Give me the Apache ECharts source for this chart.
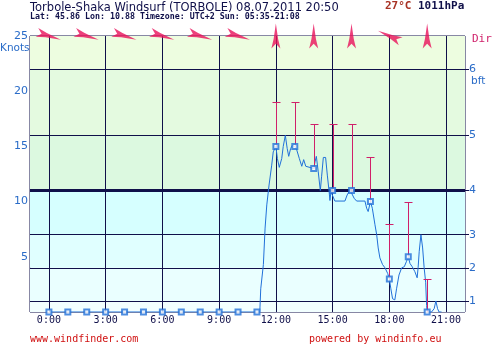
<!DOCTYPE html>
<html><head><meta charset="utf-8">
<script src="https://cdn.jsdelivr.net/npm/echarts@6/dist/echarts.min.js"></script>
<style>html,body{margin:0;padding:0;background:#fff}#c{width:495px;height:348px}</style>
</head><body><div id="c"></div>
<script>
// ---- data ----
const xTicks = [0, 3, 6, 9, 12, 15, 18, 21];
const knotTicks = [5, 10, 15, 20, 25];
const bftLevels = [1, 4, 7, 11, 16, 22];
const bftLabels = ['1', '2', '3', '4', '5', '6'];
const hours = [0,1,2,3,4,5,6,7,8,9,10,11,12,13,14,15,16,17,18,19,20];
const meanWind = [0,0,0,0,0,0,0,0,0,0,0,0,15,15,13,11,11,10,3,5,0];
const gustHours = [12,13,14,15,16,17,18,19,20];
const gustWind = [19,19,17,17,17,14,8,10,3];
const gustBase = [15,15,13,11,11,10,3,5,0];
const dirHours = [0,2,4,6,8,10,12,14,16,18,20];
const dirBearing = [107,107,107,107,107,107,0,0,0,295,0];
const detailTimes = [0,11,11.15,11.2,11.34,11.43,11.52,11.64,11.78,11.86,12,12.08,12.18,12.31,12.39,12.5,12.6,12.68,12.78,12.87,13,13.1,13.24,13.37,13.47,13.58,13.68,14,14.07,14.14,14.24,14.35,14.42,14.51,14.63,14.72,14.81,14.86,14.91,15,15.12,15.65,15.77,15.92,16,16.14,16.27,16.71,16.8,16.88,17,17.1,17.24,17.33,17.41,17.5,17.64,17.77,17.91,18,18.08,18.17,18.29,18.38,18.51,18.65,18.79,18.91,19,19.09,19.21,19.35,19.47,19.52,19.58,19.67,19.76,19.84,19.92,19.97,20,20.23,20.37,20.46,20.55,20.63,20.76];
const detailWind = [0,0,0,2.1,4.3,7.6,9.7,11.5,13.3,14.5,15,13.9,13.1,13.9,15,16,14.8,14.1,14.8,15.1,15,14.7,13.9,13.2,13.8,13.2,13.1,13,13.6,14.1,12.7,11,12.3,14,14,12.4,11,10.1,10.9,11,10.05,10.05,10.6,11.05,11,10.3,10.05,10.05,9.4,9.1,10,9.4,7.9,7,5.8,4.9,4.3,4,3.5,3,2.1,1.2,1.1,2.1,3.35,4,4.1,4.6,5,4.4,4.1,3.65,3.1,4,5.5,7,5.8,4,2.7,0.6,0,0,0.3,1,0.3,0,0];

// ---- styles ----
const NAVY = '#10104a';
const BLUE = '#2a6cc8';
const LINEBLUE = '#2070d8';
const RED = '#d0206a';
const bands = [
  [0, 1, '#f2ffff'], [1, 4, '#eaffff'], [4, 7, '#e0ffff'], [7, 11, '#d6ffff'],
  [11, 16, '#dcf9e0'], [16, 22, '#e4fae0'], [22, 25, '#edfde0']
];

const chart = echarts.init(document.getElementById('c'), null, {renderer: 'canvas'});
const arrowPath = 'path://M5,0 L7.5,16 L10,26 L5,21 L0,26 L2.5,16 Z';

const option = {
  animation: false,
  grid: {left: 30, right: 30, top: 36, bottom: 36, show: true, borderColor: NAVY, borderWidth: 1, backgroundColor: 'transparent'},
  xAxis: {
    type: 'value', min: -1, max: 22,
    axisLine: {show: false},
    splitLine: {show: false},
    axisTick: {show: false},
    axisLabel: {customValues: xTicks, formatter: v => v + ':00', color: NAVY, fontFamily: 'DejaVu Sans Mono', fontSize: 10, margin: 3}
  },
  yAxis: [{
    type: 'value', min: 0, max: 25,
    axisLine: {show: false},
    splitLine: {show: false},
    axisTick: {show: true, customValues: knotTicks, length: 4, lineStyle: {color: NAVY}},
    axisLabel: {customValues: knotTicks, color: BLUE, fontFamily: 'DejaVu Sans', fontSize: 11, margin: 2}
  }, {
    type: 'value', min: 0, max: 25, position: 'right',
    axisLine: {show: false},
    splitLine: {show: false},
    axisTick: {show: true, customValues: bftLevels, length: 4, lineStyle: {color: NAVY}},
    axisLabel: {customValues: bftLevels, formatter: v => bftLabels[bftLevels.indexOf(v)], color: BLUE, fontFamily: 'DejaVu Sans', fontSize: 11, margin: 4}
  }],
  series: [
    {
      type: 'line', name: 'wind', data: detailTimes.map((t, i) => [t, detailWind[i]]),
      showSymbol: false, symbol: 'none', lineStyle: {color: LINEBLUE, width: 1}, z: 5,
      markArea: {silent: true, itemStyle: {opacity: 1},
        data: bands.map(b => [{yAxis: b[0], itemStyle: {color: b[2]}}, {yAxis: b[1]}])},
      markLine: {silent: true, symbol: 'none', label: {show: false}, animation: false,
        data: bftLevels.map(v => ({yAxis: v, lineStyle: {color: NAVY, width: v === 11 ? 3 : 1, type: 'solid'}}))
          .concat(xTicks.map(v => ({xAxis: v, lineStyle: {color: NAVY, width: 1, type: 'solid'}})))}
    },
    {
      type: 'custom', name: 'gust', z: 6,
      data: gustHours.map((h, i) => [h, gustBase[i], gustWind[i]]),
      renderItem: (params, api) => {
        const x = api.value(0);
        const p1 = api.coord([x, api.value(1)]);
        const p2 = api.coord([x, api.value(2)]);
        const px = Math.round(p1[0]) + 0.5;
        const py = Math.round(p2[1]) + 0.5;
        return {type: 'group', children: [
          {type: 'line', shape: {x1: px, y1: p1[1], x2: px, y2: py}, style: {stroke: RED, lineWidth: 1}},
          {type: 'line', shape: {x1: px - 4, y1: py, x2: px + 4, y2: py}, style: {stroke: RED, lineWidth: 1}}
        ]};
      }
    },
    {
      type: 'scatter', name: 'hourly', z: 7, clip: false,
      data: hours.map((h, i) => [h, meanWind[i]]),
      symbol: 'emptyRect', symbolSize: 5,
      itemStyle: {color: LINEBLUE, borderWidth: 1}
    },
    {
      type: 'scatter', name: 'dir', z: 10, clip: false,
      data: dirHours.map((h, i) => ({value: [h, 25], symbolRotate: -dirBearing[i]})),
      symbol: arrowPath, symbolSize: [9, 25],
      itemStyle: {color: '#e8105a'}
    }
  ],
  graphic: [
    {type: 'text', left: 30, top: 2, style: {text: 'Torbole-Shaka Windsurf (TORBOLE) 08.07.2011 20:50', fill: NAVY, font: '11.5px "DejaVu Sans"'}},
    {type: 'text', left: 30, top: 13, style: {text: 'Lat: 45.86 Lon: 10.88 Timezone: UTC+2 Sun: 05:35-21:08', fill: NAVY, font: 'bold 8.3px "DejaVu Sans Mono"'}},
    {type: 'text', left: 385, top: 1, style: {text: '27°C', fill: '#a83224', font: 'bold 11px "DejaVu Sans Mono"'}},
    {type: 'text', left: 418, top: 1, style: {text: '1011hPa', fill: NAVY, font: 'bold 11px "DejaVu Sans Mono"'}},
    {type: 'text', left: 0, top: 43, style: {text: 'Knots', fill: BLUE, font: '10.5px "DejaVu Sans"'}},
    {type: 'text', left: 471, top: 76, style: {text: 'bft', fill: BLUE, font: '10.5px "DejaVu Sans"'}},
    {type: 'text', left: 472, top: 34, style: {text: 'Dir', fill: RED, font: '11px "DejaVu Sans Mono"'}},
    {type: 'text', left: 30, top: 334, style: {text: 'www.windfinder.com', fill: '#d01010', font: '10px "DejaVu Sans Mono"'}},
    {type: 'text', left: 309, top: 334, style: {text: 'powered by windinfo.eu', fill: '#d01010', font: '10px "DejaVu Sans Mono"'}}
  ]
};
chart.setOption(option);
</script>
</body></html>
